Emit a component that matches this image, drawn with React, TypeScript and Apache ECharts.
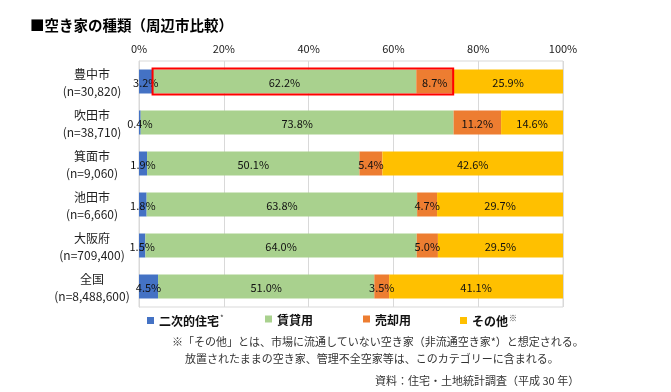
import React, { useEffect, useRef } from "react";
import * as echarts from "echarts";

const categories = [
  "豊中市\n(n=30,820)",
  "吹田市\n(n=38,710)",
  "箕面市\n(n=9,060)",
  "池田市\n(n=6,660)",
  "大阪府\n(n=709,400)",
  "全国\n(n=8,488,600)",
];
const seriesNames = ["二次的住宅", "賃貸用", "売却用", "その他"];
const secondHome = [3.2, 0.4, 1.9, 1.8, 1.5, 4.5];
const rental = [62.2, 73.8, 50.1, 63.8, 64.0, 51.0];
const forSale = [8.7, 11.2, 5.4, 4.7, 5.0, 3.5];
const other = [25.9, 14.6, 42.6, 29.7, 29.5, 41.1];
const xTicks = [0, 20, 40, 60, 80, 100];

const colors = ["#4472C4", "#A9D18E", "#ED7D31", "#FFC000"];
const FONT = "'Noto Sans CJK JP', 'Noto Sans', sans-serif";

export default function App() {
  const ref = useRef<HTMLDivElement>(null);
  useEffect(() => {
    if (!ref.current) return;
    const chart = echarts.init(ref.current, undefined, { renderer: "svg" });
    const values = [secondHome, rental, forSale, other];
    const legendX = [147, 265, 363, 460];
    const option: any = {
      animation: false,
      textStyle: { fontFamily: FONT },
      title: {
        text: "■空き家の種類（周辺市比較）",
        left: 25,
        top: 12,
        textStyle: { fontSize: 14.5, fontWeight: "bold", color: "#000", fontFamily: FONT },
      },
      legend: seriesNames.map((n, i) => ({
        data: [n],
        left: legendX[i],
        top: 313,
        padding: 0,
        itemWidth: 7,
        itemHeight: 7,
        itemGap: 4,
        icon: "rect",
        formatter: (name: string) =>
          name === "二次的住宅"
            ? "{a|" + name + "}{s|*}"
            : name === "その他"
            ? "{a|" + name + "}{s|※}"
            : "{a|" + name + "}",
        textStyle: {
          fontFamily: FONT,
          rich: {
            a: { fontSize: 12, lineHeight: 15, fontWeight: "bold", color: "#111", fontFamily: FONT },
            s: { fontSize: 8, lineHeight: 15, color: "#333", verticalAlign: "top", padding: [0, 0, 6, 1], fontFamily: FONT },
          },
        },
      })),
      grid: { left: 139, right: 108, top: 61, bottom: 85, show: true, borderColor: "#d9d9d9", borderWidth: 1 },
      xAxis: {
        type: "value",
        position: "top",
        min: 0,
        max: 100,
        interval: 20,
        axisLine: { show: false },
        axisTick: { show: false },
        splitLine: { lineStyle: { color: "#d9d9d9", width: 1 } },
        axisLabel: {
          formatter: (v: number) => (xTicks.includes(v) ? v + "%" : ""),
          fontSize: 11,
          color: "#222",
          margin: 8,
          fontFamily: FONT,
        },
      },
      yAxis: {
        type: "category",
        inverse: true,
        data: categories,
        axisLine: { show: true, lineStyle: { color: "#d9d9d9" } },
        axisTick: { show: false },
        axisLabel: {
          interval: 0,
          align: "center",
          margin: 47,
          fontSize: 12,
          lineHeight: 17,
          color: "#222",
          fontFamily: FONT,
        },
      },
      series: seriesNames.map((n, i) => ({
        name: n,
        type: "bar",
        stack: "total",
        barWidth: 24,
        data: values[i],
        itemStyle: { color: colors[i] },
        label: {
          show: true,
          position: "inside",
          formatter: (p: any) => p.value.toFixed(1) + "%",
          color: "#111",
          fontSize: 11,
          fontFamily: FONT,
        },
      })),
      color: colors,
    };
    chart.setOption(option);

    const y0 = chart.convertToPixel({ xAxisIndex: 0, yAxisIndex: 0 }, [secondHome[0], 0]);
    const y1 = chart.convertToPixel(
      { xAxisIndex: 0, yAxisIndex: 0 },
      [secondHome[0] + rental[0] + forSale[0], 0]
    );
    const notes = [
      "※「その他」とは、市場に流通していない空き家（非流通空き家*）と想定される。",
      "放置されたままの空き家、管理不全空家等は、このカテゴリーに含まれる。",
    ];
    chart.setOption({
      graphic: [
        {
          type: "rect",
          shape: { x: y0[0], y: y0[1] - 13, width: y1[0] - y0[0], height: 26 },
          style: { fill: "none", stroke: "#FF0000", lineWidth: 2 },
          z: 100,
        },
        {
          type: "text",
          x: 172,
          y: 340.5,
          style: { text: notes[0], fontSize: 11, fill: "#333", fontFamily: FONT, verticalAlign: "middle" },
        },
        {
          type: "text",
          x: 185,
          y: 357.5,
          style: { text: notes[1], fontSize: 11, fill: "#333", fontFamily: FONT, verticalAlign: "middle" },
        },
        {
          type: "text",
          x: 375,
          y: 380,
          style: { text: "資料：住宅・土地統計調査（平成 30 年）", fontSize: 11, fill: "#333", fontFamily: FONT, verticalAlign: "middle" },
        },
      ],
    });
    return () => chart.dispose();
  }, []);
  return (
    <div
      ref={ref}
      style={{ position: "fixed", left: 0, top: 0, width: 671, height: 392 }}
    />
  );
}
